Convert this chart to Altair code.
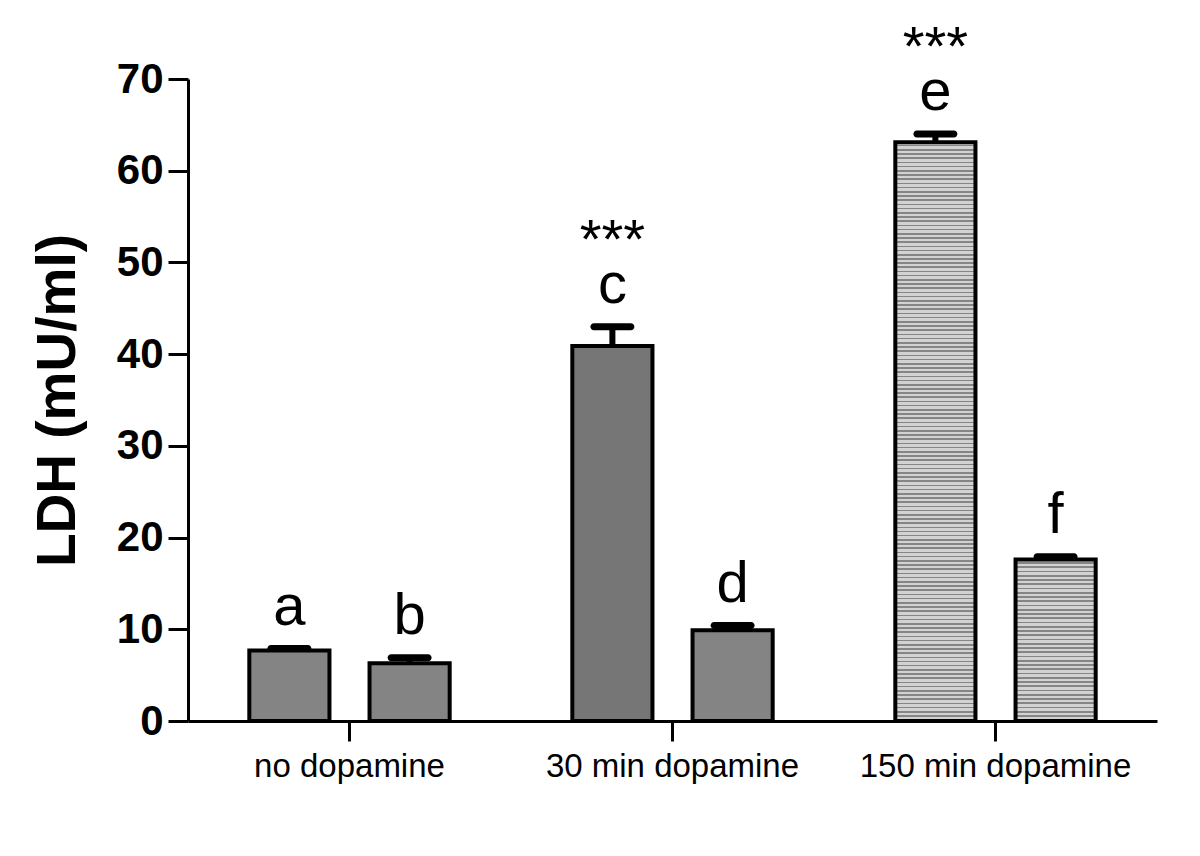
import altair as alt
import pandas as pd

groups = ["no dopamine", "no dopamine", "30 min dopamine", "30 min dopamine", "150 min dopamine", "150 min dopamine"]
subs = [1, 2, 1, 2, 1, 2]
letters = ["a", "b", "c", "d", "e", "f"]
means = [7.7, 6.3, 40.9, 9.9, 63.1, 17.6]
uppers = [7.9, 6.9, 43.0, 10.4, 64.0, 17.9]
stars = ["", "", "***", "", "***", ""]
patterns = ["dots", "dots", "check", "dots", "stripes", "stripes"]

group_order = ["no dopamine", "30 min dopamine", "150 min dopamine"]

df = pd.DataFrame({
    "group": groups, "sub": subs, "letter": letters,
    "mean": means, "upper": uppers, "stars": stars, "pattern": patterns,
})

FONT = "Liberation Sans"
PLOT_H = 642
Y_MAX = 70

x = alt.X("group:N", sort=group_order, title=None,
          scale=alt.Scale(paddingInner=0, paddingOuter=0),
          axis=alt.Axis(labelAngle=0, labelFontSize=33, labelFont=FONT, labelColor="black",
                        labelLimit=0, tickSize=20, tickWidth=3, tickColor="black", domainWidth=3,
                        domainColor="black", labelPadding=9, bandPosition=0.5))
xs = alt.X("group:N", sort=group_order)
xo = alt.XOffset("sub:O", scale=alt.Scale(paddingInner=1/3, paddingOuter=0.51))
yscale = alt.Scale(domain=[0, Y_MAX], nice=False)

base = alt.Chart(df)

yaxis = alt.Axis(values=[0, 10, 20, 30, 40, 50, 60, 70], grid=False,
                 labelFontSize=42, labelFontWeight="bold", labelFont=FONT,
                 labelColor="black", tickSize=20, tickWidth=3, tickColor="black",
                 domainWidth=3, domainColor="black", labelPadding=5,
                 titleFontSize=55, titleFontWeight="bold", titleFont=FONT,
                 titleColor="black", titlePadding=30)

fill_map = {"dots": "#848484", "check": "#767676"}

solid = base.transform_filter(alt.datum.pattern != "stripes").mark_bar(
    stroke="black", strokeWidth=4).encode(
    x=x, xOffset=xo,
    y=alt.Y("mean:Q", scale=yscale, title="LDH (mU/ml)", axis=yaxis),
    fill=alt.Fill("pattern:N", scale=alt.Scale(domain=list(fill_map.keys()),
                                               range=list(fill_map.values())), legend=None),
)

def stripe_gradient(value):
    px = value / Y_MAX * PLOT_H
    n = max(1, round(px / 4.2))
    stops = []
    for i in range(n):
        a = i / n
        b = (i + 0.62) / n
        c = (i + 1) / n
        stops += [
            alt.GradientStop(offset=a, color="#d2d2d2"),
            alt.GradientStop(offset=b, color="#d2d2d2"),
            alt.GradientStop(offset=b, color="#858585"),
            alt.GradientStop(offset=c, color="#858585"),
        ]
    return alt.LinearGradient(gradient="linear", stops=stops, x1=0, x2=0, y1=0, y2=1)

striped_layers = []
for lt, m, p in zip(letters, means, patterns):
    if p != "stripes":
        continue
    striped_layers.append(
        base.transform_filter(alt.datum.letter == lt).mark_bar(
            stroke="black", strokeWidth=4, fill=stripe_gradient(m)).encode(
            x=xs, xOffset=xo, y=alt.Y("mean:Q", scale=yscale))
    )

stems = base.mark_rule(color="black", strokeWidth=6).encode(
    x=xs, xOffset=xo,
    y=alt.Y("mean:Q", scale=yscale), y2="upper:Q",
)

caps = base.mark_tick(color="black", size=44, thickness=7, cornerRadius=3.5,
                      orient="horizontal", opacity=1).encode(
    x=xs, xOffset=xo, y=alt.Y("upper:Q", scale=yscale),
)

letter_text = base.mark_text(font=FONT, fontSize=58, dy=-24, baseline="alphabetic",
                             color="black").encode(
    x=xs, xOffset=xo, y=alt.Y("upper:Q", scale=yscale), text="letter:N",
)

star_text = base.mark_text(font=FONT, fontSize=56, dy=-69, baseline="alphabetic",
                           color="black").encode(
    x=xs, xOffset=xo, y=alt.Y("upper:Q", scale=yscale), text="stars:N",
)

chart = alt.layer(solid, *striped_layers, stems, caps, letter_text, star_text).properties(
    width=969, height=PLOT_H,
    background="white",
    autosize=alt.AutoSizeParams(type="none"),
    padding={"left": 180, "top": 71, "right": 30, "bottom": 110},
).configure_view(stroke="transparent", strokeWidth=0)

chart.save("out.html", embed_options={"renderer": "svg", "actions": False})
